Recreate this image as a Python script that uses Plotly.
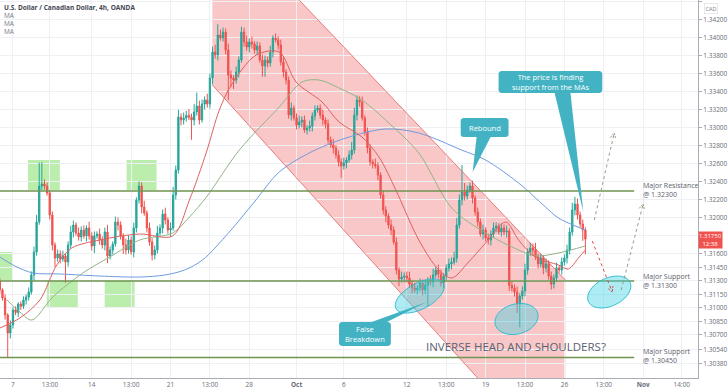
import numpy as np
import plotly.graph_objects as go

# ---------------- data ----------------
first_candle = -5          # candle index of first bar (6 bars per trading day, 0 = Sep 7 00:00)
first_open = 1.31300
closes = [
    1.31200, 1.31111, 1.30922, 1.30722, 1.30811, 1.30978, 1.30950, 1.31044, 1.31020, 1.31089,
    1.31122, 1.31178, 1.31366, 1.31622, 1.31955, 1.32355, 1.32378, 1.32355, 1.32278, 1.32033,
    1.31700, 1.31555, 1.31600, 1.31544, 1.31578, 1.31511, 1.31700, 1.31844, 1.31922, 1.31833,
    1.31789, 1.31866, 1.31800, 1.31889, 1.31800, 1.31689, 1.31800, 1.31822, 1.31755, 1.31700,
    1.31844, 1.31578, 1.31644, 1.31711, 1.31955, 1.31922, 1.31800, 1.31700, 1.31644, 1.31755,
    1.31622, 1.31889, 1.32200, 1.32355, 1.32122, 1.32055, 1.31889, 1.31733, 1.31589, 1.31644,
    1.31833, 1.31889, 1.32044, 1.31978, 1.31866, 1.31889, 1.32255, 1.32533, 1.33122, 1.33089,
    1.33111, 1.33140, 1.33120, 1.33089, 1.33178, 1.33244, 1.33089, 1.33266, 1.33311, 1.33266,
    1.33555, 1.33844, 1.33811, 1.34033, 1.34000, 1.34066, 1.33866, 1.33589, 1.33555, 1.33533,
    1.33622, 1.33755, 1.34066, 1.33955, 1.33900, 1.33955, 1.33933, 1.33866, 1.33911, 1.33755,
    1.33689, 1.33755, 1.33722, 1.33844, 1.34000, 1.33980, 1.33922, 1.33733, 1.33622, 1.33533,
    1.33144, 1.33222, 1.33111, 1.33033, 1.33066, 1.33089, 1.32978, 1.33000, 1.33022, 1.33133,
    1.33200, 1.33222, 1.33144, 1.33089, 1.33044, 1.32866, 1.32811, 1.32778, 1.32700, 1.32622,
    1.32578, 1.32611, 1.32644, 1.32700, 1.32755, 1.33144, 1.33311, 1.33289, 1.33111, 1.32955,
    1.32778, 1.32622, 1.32600, 1.32578, 1.32478, 1.32255, 1.32089, 1.32022, 1.31922, 1.31866,
    1.31733, 1.31422, 1.31322, 1.31344, 1.31355, 1.31333, 1.31266, 1.31222, 1.31200, 1.31222,
    1.31278, 1.31200, 1.31255, 1.31311, 1.31290, 1.31366, 1.31422, 1.31378, 1.31278, 1.31355,
    1.31444, 1.31489, 1.31511, 1.31555, 1.31922, 1.32200, 1.32289, 1.32244, 1.32311, 1.32355,
    1.32222, 1.32066, 1.31955, 1.31822, 1.31866, 1.31778, 1.31755, 1.31822, 1.31889, 1.31911,
    1.31844, 1.31889, 1.31844, 1.31855, 1.31250, 1.31222, 1.31178, 1.31044, 1.31133, 1.31189,
    1.31422, 1.31622, 1.31666, 1.31644, 1.31566, 1.31489, 1.31555, 1.31444, 1.31489, 1.31355,
    1.31266, 1.31333, 1.31444, 1.31422, 1.31511, 1.31555, 1.31644, 1.31844, 1.32089, 1.32155,
    1.32033, 1.31933, 1.31866, 1.31766,
]
# wick lengths in pips above max(open, close) and below min(open, close)
wick_up = [
    3, 2, 4, 2, 5, 3, 4, 2, 3, 4,   3, 5, 4, 6, 8, 26, 24, 5, 4, 3,
    4, 3, 5, 4, 6, 3, 4, 7, 5, 3,   6, 4, 5, 3, 7, 4, 5, 3, 6, 4,
    5, 8, 4, 3, 6, 5, 4, 3, 7, 5,   4, 6, 3, 5, 4, 7, 3, 6, 4, 5,
    8, 4, 5, 7, 3, 6, 9, 5, 8, 4,   6, 5, 7, 4, 9, 15, 6, 5, 4, 7,
    5, 6, 8, 12, 6, 5, 4, 7, 5, 3,  6, 4, 6, 5, 7, 4, 6, 3, 5, 4,
    6, 5, 4, 7, 3, 5, 4, 6, 5, 3,   4, 6, 3, 5, 7, 4, 5, 3, 6, 4,
    5, 3, 4, 6, 3, 5, 4, 7, 3, 5,   4, 6, 3, 5, 9, 8, 5, 4, 6, 3,
    5, 4, 3, 6, 4, 3, 5, 4, 3, 6,   4, 5, 3, 6, 4, 5, 7, 4, 6, 3,
    5, 4, 6, 3, 5, 7, 4, 6, 5, 3,   4, 6, 5, 7, 8, 6, 30, 10, 5, 4,
    6, 3, 5, 4, 6, 3, 5, 4, 6, 4,   3, 5, 4, 6, 3, 5, 4, 6, 3, 5,
    7, 4, 6, 5, 8, 4, 5, 3, 6, 4,   5, 4, 6, 3, 5, 4, 6, 5, 8, 8,
    6, 4, 5, 3,
]
wick_dn = [
    4, 3, 5, 27, 6, 4, 3, 5, 4, 3,  5, 4, 3, 6, 4, 3, 5, 4, 3, 5,
    6, 10, 4, 5, 3, 23, 5, 4, 6, 3, 4, 5, 3, 6, 4, 5, 8, 3, 5, 4,
    6, 8, 4, 5, 3, 6, 4, 10, 5, 4,  3, 6, 5, 4, 7, 3, 5, 4, 6, 5,
    4, 3, 6, 5, 4, 7, 3, 5, 4, 6,   5, 4, 3, 22, 6, 4, 5, 3, 6, 4,
    5, 7, 4, 6, 3, 4, 5, 28, 10, 10, 4, 6, 3, 5, 4, 6, 5, 4, 6, 3,
    12, 12, 5, 4, 6, 3, 5, 4, 6, 5, 4, 6, 3, 5, 4, 6, 3, 5, 4, 6,
    5, 3, 4, 6, 5, 4, 3, 6, 4, 5,   13, 4, 6, 3, 5, 4, 6, 5, 3, 4,
    6, 4, 5, 3, 6, 4, 5, 7, 4, 6,   3, 5, 8, 4, 6, 5, 4, 6, 3, 5,
    4, 6, 5, 24, 4, 6, 3, 5, 4, 6,  5, 4, 6, 3, 5, 4, 6, 5, 4, 3,
    6, 4, 5, 3, 6, 4, 5, 6, 4, 5,   3, 5, 4, 6, 6, 4, 5, 10, 26, 4,
    6, 5, 4, 6, 3, 5, 4, 7, 5, 4,   6, 5, 4, 3, 5, 4, 6, 5, 4, 6,
    5, 4, 12, 17,
]

# moving averages (day position, price)
ma_fast_x = [-0.82, 0.44, 1.71, 2.78, 3.73, 5.51, 8.04, 10.13, 11.20, 12.28, 13.10, 13.86, 15.44,
             16.90, 17.97, 19.62, 20.70, 22.15, 23.23, 24.30, 25.76, 27.03, 27.85, 28.92, 30.00,
             31.27, 32.09, 33.16, 34.62, 35.25, 35.89, 36.33]
ma_fast_y = [1.30778, 1.30889, 1.31089, 1.31478, 1.31666, 1.31755, 1.31822, 1.31800, 1.32200,
             1.32733, 1.33200, 1.33478, 1.33811, 1.33844, 1.33511, 1.33289, 1.33066, 1.32900,
             1.32678, 1.32311, 1.31755, 1.31422, 1.31333, 1.31511, 1.31722, 1.31955, 1.31755,
             1.31566, 1.31478, 1.31433, 1.31555, 1.31644]
ma_mid_x = [-0.38, 0.44, 1.20, 2.53, 4.43, 6.14, 8.04, 10.13, 11.20, 12.28, 14.37, 16.90, 18.35,
            19.43, 20.70, 22.15, 23.86, 25.76, 27.85, 30.00, 32.09, 33.16, 34.62, 36.33]
ma_mid_y = [1.31089, 1.30955, 1.30866, 1.31122, 1.31389, 1.31566, 1.31755, 1.31833, 1.32011,
            1.32233, 1.32755, 1.33233, 1.33511, 1.33533, 1.33444, 1.33311, 1.33055, 1.32722,
            1.32111, 1.31833, 1.31644, 1.31578, 1.31611, 1.31689]
ma_slow_x = [-0.82, 0.13, 1.27, 2.97, 5.51, 8.04, 9.62, 10.89, 12.03, 13.73, 15.32, 16.90, 18.80,
             21.14, 23.67, 25.76, 28.48, 30.00, 32.09, 33.80, 34.62, 36.33]
ma_slow_y = [1.31566, 1.31466, 1.31389, 1.31378, 1.31355, 1.31344, 1.31366, 1.31422, 1.31533,
             1.31844, 1.32178, 1.32511, 1.32722, 1.32889, 1.32989, 1.32944, 1.32755, 1.32644,
             1.32389, 1.32122, 1.32000, 1.31866]

levels = [1.32300, 1.31300, 1.30450]
level_names = ["Major Resistance", "Major Support", "Major Support"]

x_tickvals = [0, 2.35, 5, 7.5, 10, 12.5, 15, 18, 21, 25, 27.5, 30, 32.5, 35, 37.5, 40, 42.45]
x_ticktext = ["7", "13:00", "14", "13:00", "21", "13:00", "28", "<b>Oct</b>", "6", "12", "13:00",
              "19", "13:00", "26", "13:00", "<b>Nov</b>", "14:00"]
y_tickvals = [1.344, 1.342, 1.340, 1.338, 1.336, 1.334, 1.332, 1.330, 1.328, 1.326, 1.324, 1.322,
              1.320, 1.318, 1.316, 1.3145, 1.313, 1.3115, 1.310, 1.3085, 1.307, 1.3054, 1.3038]
last_price = 1.31750
last_time = "12:38"

# ---------------- geometry ----------------
W, H = 728, 391
ML, MR, MT, MB = 0, 28, 0, 13
PW, PH = W - ML - MR, H - MT - MB
X0, X1 = -0.823, 43.48
Y0, Y1 = 1.30222, 1.34422


def fx(px):
    return X0 + px / PW * (X1 - X0)


def fy(py):
    return Y1 - py / PH * (Y1 - Y0)


def path(points, close=True):
    s = "M " + " L ".join(f"{fx(x):.5f},{fy(y):.6f}" for x, y in points)
    return s + (" Z" if close else "")


def ellipse(cx, cy, a, b, deg):
    th = np.radians(deg)
    t = np.linspace(0, 2 * np.pi, 48, endpoint=False)
    xs = cx + a * np.cos(t) * np.cos(th) - b * np.sin(t) * np.sin(th)
    ys = cy + a * np.cos(t) * np.sin(th) + b * np.sin(t) * np.cos(th)
    return path(list(zip(xs, ys)))


def rrect(x0, y0, x1, y1, r=3):
    pts = []
    for (cx, cy, a0) in [(x1 - r, y0 + r, -90), (x1 - r, y1 - r, 0), (x0 + r, y1 - r, 90), (x0 + r, y0 + r, 180)]:
        for a in np.linspace(a0, a0 + 90, 5):
            pts.append((cx + r * np.cos(np.radians(a)), cy + r * np.sin(np.radians(a))))
    return path(pts)


# ---------------- candles ----------------
closes_a = np.array(closes)
opens_a = np.concatenate([[first_open], closes_a[:-1]])
highs_a = np.maximum(opens_a, closes_a) + np.array(wick_up) * 0.0001
lows_a = np.minimum(opens_a, closes_a) - np.array(wick_dn) * 0.0001
xs = (np.arange(len(closes)) + first_candle) / 6.0

UP, DN = "#26a69a", "#ef5350"
fig = go.Figure()
fig.add_trace(go.Candlestick(
    x=xs, open=opens_a, high=highs_a, low=lows_a, close=closes_a,
    increasing=dict(line=dict(color=UP, width=1), fillcolor=UP),
    decreasing=dict(line=dict(color=DN, width=1), fillcolor=DN),
    whiskerwidth=0, showlegend=False, hoverinfo="skip"))
for mx, my, col in [(ma_slow_x, ma_slow_y, "#6f9be0"), (ma_mid_x, ma_mid_y, "#93b487"),
                    (ma_fast_x, ma_fast_y, "#e06060")]:
    fig.add_trace(go.Scatter(x=mx, y=my, mode="lines", showlegend=False, hoverinfo="skip",
                             line=dict(color=col, width=1, shape="spline", smoothing=0.9)))

shapes = []
# descending channel
shapes.append(dict(type="path", path=path([(213, 0), (300, 0), (567, 280), (567, 378), (479, 378), (213, 85)]),
                   fillcolor="rgba(235,70,70,0.30)", line=dict(width=0), layer="below"))
for seg in [[(300, 0), (567, 280)], [(213, 85), (479, 378)]]:
    shapes.append(dict(type="path", path=path(seg, close=False), line=dict(color="rgba(225,90,90,0.75)", width=1)))
# green boxes
for (x0, y0, x1, y1) in [(0, 252, 13, 280), (28, 160, 60, 190), (47, 280, 78, 308), (105, 280, 135, 308), (127, 160, 157, 190)]:
    shapes.append(dict(type="rect", x0=fx(x0), x1=fx(x1), y0=fy(y1), y1=fy(y0),
                       fillcolor="rgba(120,220,90,0.5)", line=dict(width=0), layer="below"))
# horizontal levels
for lv in levels:
    shapes.append(dict(type="line", x0=X0, x1=fx(636), y0=lv, y1=lv, line=dict(color="#6f9350", width=1.5)))
# ellipses
for (cx, cy, a, b, d) in [(421, 296, 27, 13, -28), (518, 319, 22, 15, -15), (611, 292, 23, 14, -25)]:
    shapes.append(dict(type="path", path=ellipse(cx, cy, a, b, d),
                       fillcolor="rgba(60,210,225,0.42)", line=dict(color="rgba(40,185,205,0.9)", width=1)))
# dashed arrows
for (p0, p1, col) in [((594, 241), (614, 292), "#e04848"), ((596, 220), (616, 133), "#8fa086"),
                      ((623, 290), (645, 204), "#8fa086")]:
    shapes.append(dict(type="path", path=path([p0, p1], close=False), line=dict(color=col, width=1, dash="3px,3px")))
    v = np.array(p1, float) - np.array(p0, float)
    v /= np.linalg.norm(v)
    wings = []
    for ang in (28, -28):
        r = np.radians(ang)
        rv = np.array([v[0] * np.cos(r) - v[1] * np.sin(r), v[0] * np.sin(r) + v[1] * np.cos(r)])
        wings.append(tuple(np.array(p1) - 6 * rv))
    shapes.append(dict(type="path", path=path([wings[0], p1, wings[1]], close=False),
                       line=dict(color=col, width=1, dash="2px,1px")))
# callouts
TEAL = "#43b3c3"
callouts = [
    ((462, 118, 510, 137), [(478, 137), (492, 137), (474, 172)], "Rebound"),
    ((500, 71, 604, 93), [(556, 92), (572, 92), (585, 212)], "The price is finding<br>support from the MAs"),
    ((340, 322, 392, 346), [(370, 323), (386, 323), (428, 302)], "False<br>Breakdown"),
]
annotations = []
for (box, tail, txt) in callouts:
    shapes.append(dict(type="path", path=path(tail), fillcolor=TEAL, line=dict(width=0)))
    shapes.append(dict(type="path", path=rrect(*box), fillcolor=TEAL, line=dict(width=0)))
    annotations.append(dict(x=fx((box[0] + box[2]) / 2), y=fy((box[1] + box[3]) / 2), text=txt,
                            showarrow=False, font=dict(family="Open Sans", size=7.5, color="white")))

LBL = "#5d606b"
for lv, name, ypx in zip(levels, level_names, [190, 281, 356]):
    annotations.append(dict(x=fx(643), y=fy(ypx), xanchor="left", yanchor="middle", align="left",
                            text=f"{name}<br>@ {lv:.5f}", showarrow=False,
                            font=dict(family="Open Sans", size=7, color=LBL)))
annotations.append(dict(x=fx(517), y=fy(346), text="INVERSE HEAD AND SHOULDERS?", showarrow=False,
                        font=dict(family="Open Sans", size=11.5, color="#5a6270")))
annotations.append(dict(x=fx(2), y=fy(7), xanchor="left", yanchor="middle", showarrow=False,
                        text="<b>U.S. Dollar / Canadian Dollar, 4h, OANDA</b>",
                        font=dict(family="Open Sans", size=6.5, color="#434651")))
for ypx in (15, 23, 31):
    annotations.append(dict(x=fx(2), y=fy(ypx), xanchor="left", yanchor="middle", showarrow=False,
                            text="MA", font=dict(family="Open Sans", size=6.5, color="#787b86")))
# last-price tag (covers the 1.31800 tick, as in the reference)
annotations.append(dict(xref="paper", x=1.0, xanchor="left", xshift=0, y=fy(240), yanchor="middle",
                        text=f"{last_price:.5f}<br>{last_time}", showarrow=False, bgcolor="#ef5350",
                        borderpad=0, font=dict(family="Open Sans", size=6, color="white")))
annotations.append(dict(xref="paper", x=1.0, xanchor="left", xshift=6, y=fy(8), yanchor="middle",
                        text="CAD", showarrow=False, bgcolor="white", bordercolor="#d1d4dc", borderwidth=0.5,
                        borderpad=1, font=dict(family="Open Sans", size=5.5, color="#787b86")))

y_ticktext = ["" if abs(v - 1.318) < 1e-9 else f"{v:.5f}" for v in y_tickvals]

fig.update_layout(
    width=W, height=H, margin=dict(l=ML, r=MR, t=MT, b=MB),
    plot_bgcolor="white", paper_bgcolor="white", shapes=shapes, annotations=annotations,
    xaxis=dict(range=[X0, X1], tickvals=x_tickvals, ticktext=x_ticktext, showgrid=True,
               gridcolor="#eef0f4", gridwidth=1, zeroline=False, showline=True, linecolor="#a9acb5",
               tickfont=dict(family="Open Sans", size=6.5, color="#6a6d78"), rangeslider=dict(visible=False),
               fixedrange=True),
    yaxis=dict(range=[Y0, Y1], side="right", tickvals=y_tickvals,
               ticktext=y_ticktext, showgrid=True, gridcolor="#eef0f4",
               zeroline=False, showline=True, linecolor="#a9acb5", ticks="outside", ticklen=3,
               tickcolor="#a9acb5", tickfont=dict(family="Open Sans", size=6.5, color="#6a6d78"),
               fixedrange=True),
)
fig.write_html("out.html")
